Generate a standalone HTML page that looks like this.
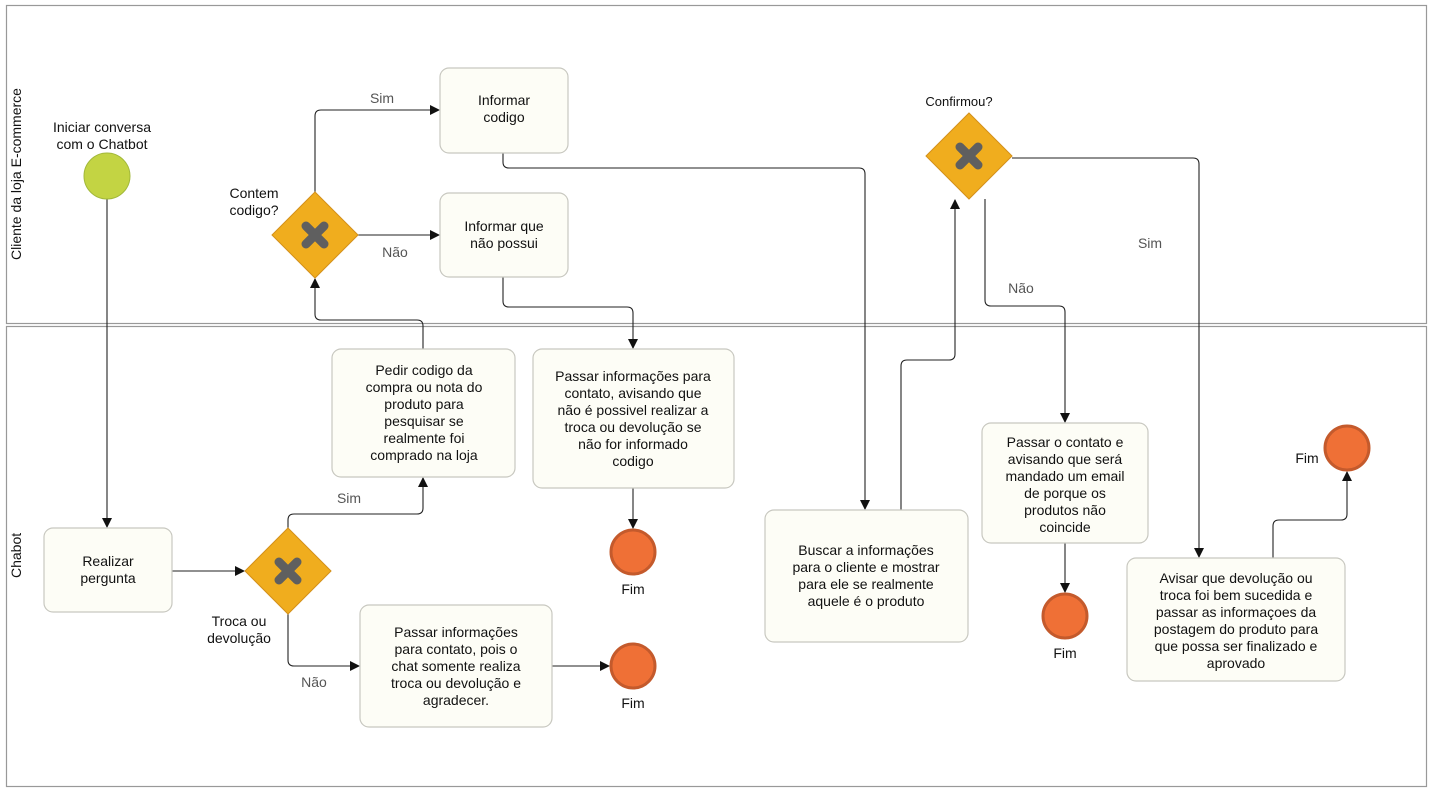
<!DOCTYPE html>
<html><head><meta charset="utf-8"><style>
html,body{margin:0;padding:0;background:#fff;}
svg{display:block;}
text{font-family:"Liberation Sans",sans-serif;font-size:14px;fill:#111;}
.g{fill:#555;}
.box{fill:#fdfdf6;stroke:#c8c8c0;stroke-width:1.2;}
.ln{fill:none;stroke:#222;stroke-width:1.1;}
.dm{fill:#f0ad1e;stroke:#d4901a;stroke-width:1;}
.x{stroke:#5f5f5f;stroke-width:9;stroke-linecap:round;}
.end{fill:#ef7036;stroke:#c45a2c;stroke-width:3;}
</style></head><body>
<svg width="1434" height="793" viewBox="0 0 1434 793">
<defs><marker id="a" markerWidth="10" markerHeight="10" refX="9" refY="5" orient="auto" markerUnits="userSpaceOnUse"><path d="M0,0 L10,5 L0,10 z" fill="#111"/></marker></defs>
<rect x="6.5" y="5.5" width="1420" height="318" fill="none" stroke="#999" stroke-width="1.2"/>
<rect x="6.5" y="326.5" width="1420" height="460" fill="none" stroke="#999" stroke-width="1.2"/>
<text transform="translate(21,260) rotate(-90)">Cliente da loja E-commerce</text>
<text transform="translate(21,578) rotate(-90)">Chabot</text>

<!-- connectors -->
<path class="ln" d="M107,199 V527" marker-end="url(#a)"/>
<path class="ln" d="M172,571 H244" marker-end="url(#a)"/>
<path class="ln" d="M288,528 V520 Q288,514 294,514 H417 Q423,514 423,508 V478" marker-end="url(#a)"/>
<path class="ln" d="M288,614 V660 Q288,666 294,666 H359" marker-end="url(#a)"/>
<path class="ln" d="M552,666 H609" marker-end="url(#a)"/>
<path class="ln" d="M423,349 V326 Q423,320 417,320 H321 Q315,320 315,314 V279" marker-end="url(#a)"/>
<path class="ln" d="M315,192 V116 Q315,110 321,110 H439" marker-end="url(#a)"/>
<path class="ln" d="M358,235 H439" marker-end="url(#a)"/>
<path class="ln" d="M503,153 V162 Q503,168 509,168 H859 Q865,168 865,174 V509" marker-end="url(#a)"/>
<path class="ln" d="M503,277 V301 Q503,307 509,307 H627 Q633,307 633,313 V348" marker-end="url(#a)"/>
<path class="ln" d="M633,488 V528" marker-end="url(#a)"/>
<path class="ln" d="M901,510 V366 Q901,360 907,360 H949 Q955,360 955,354 V200" marker-end="url(#a)"/>
<path class="ln" d="M985,199 V300 Q985,306 991,306 H1059 Q1065,306 1065,312 V422" marker-end="url(#a)"/>
<path class="ln" d="M1012,158 H1193 Q1199,158 1199,164 V557" marker-end="url(#a)"/>
<path class="ln" d="M1065,543 V592" marker-end="url(#a)"/>
<path class="ln" d="M1273,558 V526 Q1273,520 1279,520 H1341 Q1347,520 1347,514 V472" marker-end="url(#a)"/>

<!-- start -->
<circle cx="107" cy="176" r="23" fill="#c3d443" stroke="#a2b83a" stroke-width="1"/>
<text x="102" y="132" text-anchor="middle">Iniciar conversa</text>
<text x="102" y="149" text-anchor="middle">com o Chatbot</text>

<!-- gateways -->
<g transform="translate(315,235)"><path class="dm" d="M0,-43 L43,0 L0,43 L-43,0z"/><path class="x" d="M-9,-9 L9,9 M9,-9 L-9,9"/></g>
<g transform="translate(288,571)"><path class="dm" d="M0,-43 L43,0 L0,43 L-43,0z"/><path class="x" d="M-9,-9 L9,9 M9,-9 L-9,9"/></g>
<g transform="translate(969,156)"><path class="dm" d="M0,-43 L43,0 L0,43 L-43,0z"/><path class="x" d="M-9,-9 L9,9 M9,-9 L-9,9"/></g>
<text x="254" y="198" text-anchor="middle">Contem</text>
<text x="254" y="215" text-anchor="middle">codigo?</text>
<text x="239" y="626" text-anchor="middle">Troca ou</text>
<text x="239" y="643" text-anchor="middle">devolução</text>
<text x="959" y="106" text-anchor="middle" style="font-size:13px">Confirmou?</text>

<!-- edge labels -->
<text class="g" x="382" y="103" text-anchor="middle">Sim</text>
<text class="g" x="395" y="257" text-anchor="middle">Não</text>
<text class="g" x="349" y="503" text-anchor="middle">Sim</text>
<text class="g" x="314" y="687" text-anchor="middle">Não</text>
<text class="g" x="1021" y="293" text-anchor="middle">Não</text>
<text class="g" x="1150" y="248" text-anchor="middle">Sim</text>

<!-- boxes -->
<rect class="box" x="440" y="68" width="128" height="85" rx="9"/>
<text x="504" y="105" text-anchor="middle">Informar</text><text x="504" y="122" text-anchor="middle">codigo</text>
<rect class="box" x="440" y="193" width="128" height="84" rx="9"/>
<text x="504" y="231" text-anchor="middle">Informar que</text><text x="504" y="248" text-anchor="middle">não possui</text>
<rect class="box" x="332" y="349" width="183" height="128" rx="9"/>
<g text-anchor="middle"><text x="424" y="375">Pedir codigo da</text><text x="424" y="392">compra ou nota do</text><text x="424" y="409">produto para</text><text x="424" y="426">pesquisar se</text><text x="424" y="443">realmente foi</text><text x="424" y="460">comprado na loja</text></g>
<rect class="box" x="533" y="349" width="201" height="139" rx="9"/>
<g text-anchor="middle"><text x="633" y="381">Passar informações para</text><text x="633" y="398">contato, avisando que</text><text x="633" y="415">não é possivel realizar a</text><text x="633" y="432">troca ou devolução se</text><text x="633" y="449">não for informado</text><text x="633" y="466">codigo</text></g>
<rect class="box" x="44" y="528" width="128" height="84" rx="9"/>
<text x="108" y="566" text-anchor="middle">Realizar</text><text x="108" y="583" text-anchor="middle">pergunta</text>
<rect class="box" x="360" y="605" width="192" height="122" rx="9"/>
<g text-anchor="middle"><text x="456" y="637">Passar informações</text><text x="456" y="654">para contato, pois o</text><text x="456" y="671">chat somente realiza</text><text x="456" y="688">troca ou devolução e</text><text x="456" y="705">agradecer.</text></g>
<rect class="box" x="765" y="510" width="203" height="132" rx="9"/>
<g text-anchor="middle"><text x="866" y="555">Buscar a informações</text><text x="866" y="572">para o cliente e mostrar</text><text x="866" y="589">para ele se realmente</text><text x="866" y="606">aquele é o produto</text></g>
<rect class="box" x="982" y="423" width="166" height="120" rx="9"/>
<g text-anchor="middle"><text x="1065" y="447">Passar o contato e</text><text x="1065" y="464">avisando que será</text><text x="1065" y="481">mandado um email</text><text x="1065" y="498">de porque os</text><text x="1065" y="515">produtos não</text><text x="1065" y="532">coincide</text></g>
<rect class="box" x="1127" y="558" width="218" height="123" rx="9"/>
<g text-anchor="middle"><text x="1236" y="583">Avisar que devolução ou</text><text x="1236" y="600">troca foi bem sucedida e</text><text x="1236" y="617">passar as informaçoes da</text><text x="1236" y="634">postagem do produto para</text><text x="1236" y="651">que possa ser finalizado e</text><text x="1236" y="668">aprovado</text></g>

<!-- ends -->
<circle class="end" cx="633" cy="552" r="22"/><text x="633" y="594" text-anchor="middle">Fim</text>
<circle class="end" cx="633" cy="666" r="22"/><text x="633" y="708" text-anchor="middle">Fim</text>
<circle class="end" cx="1065" cy="616" r="22"/><text x="1065" y="658" text-anchor="middle">Fim</text>
<circle class="end" cx="1347" cy="448" r="22"/><text x="1307" y="463" text-anchor="middle">Fim</text>
</svg>
</body></html>
